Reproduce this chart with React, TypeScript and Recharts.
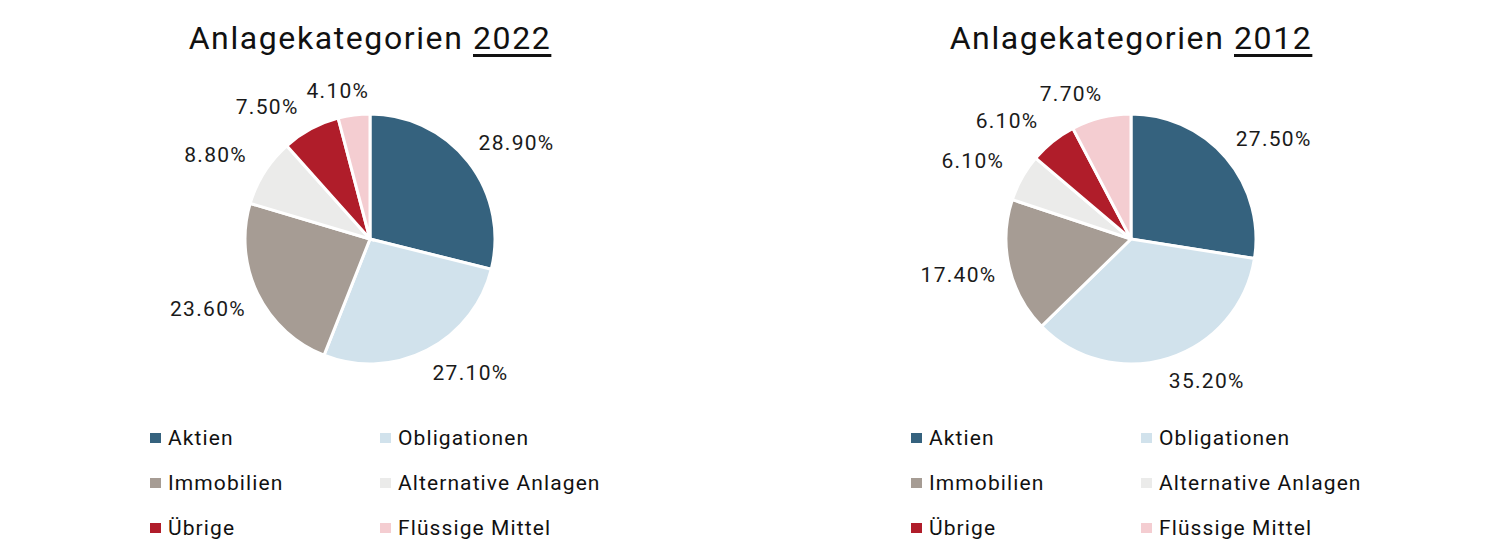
import { Pie, PieChart, Cell } from "recharts";

const categories = [
  "Aktien",
  "Obligationen",
  "Immobilien",
  "Alternative Anlagen",
  "Übrige",
  "Flüssige Mittel",
];
const colors = ["#35627e", "#d1e2ec", "#a69c94", "#ebebea", "#b01d2a", "#f4cdd1"];
const values2022 = [28.9, 27.1, 23.6, 8.8, 7.5, 4.1];
const values2012 = [27.5, 35.2, 17.4, 6.1, 6.1, 7.7];

const FONT = "Roboto, 'DejaVu Sans', sans-serif";
const RADIAN = Math.PI / 180;
const clamp = (v: number) => Math.max(-1, Math.min(1, v));

// outside-end labels, pushed off the rim by half the label box
function renderLabel(props: any) {
  const { cx, cy, midAngle, outerRadius, value } = props;
  const dx = Math.cos(-midAngle * RADIAN);
  const dy = Math.sin(-midAngle * RADIAN);
  const ax = cx + (outerRadius + 14) * dx;
  const ay = cy + (outerRadius + 14) * dy;
  const x = ax + 37 * clamp(dx * 3);
  const y = ay + 10 * clamp(dy * 2);
  return (
    <text
      x={x}
      y={y}
      textAnchor="middle"
      dominantBaseline="central"
      fill="#1a1a1a"
      fontSize={21}
      fontFamily={FONT}
      letterSpacing={1.3}
    >
      {`${Number(value).toFixed(2)}%`}
    </text>
  );
}

function Panel({ year, values, left }: { year: string; values: number[]; left: number }) {
  const data = categories.map((name, i) => ({ name, value: values[i] }));
  return (
    <div style={{ position: "absolute", left, top: 0, width: 750, height: 555 }}>
      <div
        style={{
          position: "absolute",
          left: 0,
          width: 740,
          top: 19,
          textAlign: "center",
          fontFamily: FONT,
          fontSize: 32,
          color: "#111",
          letterSpacing: 1.6,
        }}
      >
        Anlagekategorien <u style={{ textUnderlineOffset: 5 }}>{year}</u>
      </div>
      <div style={{ position: "absolute", left: 0, top: 0 }}>
        <PieChart width={750} height={410} margin={{ top: 0, right: 0, bottom: 0, left: 0 }}>
          <Pie
            data={data}
            dataKey="value"
            cx={370}
            cy={239}
            outerRadius={125}
            startAngle={90}
            endAngle={-270}
            stroke="#fff"
            strokeWidth={3}
            label={renderLabel}
            labelLine={false}
            isAnimationActive={false}
          >
            {data.map((d, i) => (
              <Cell key={d.name} fill={colors[i]} />
            ))}
          </Pie>
        </PieChart>
      </div>
      {categories.map((name, i) => (
        <div
          key={name}
          style={{
            position: "absolute",
            left: i % 2 === 0 ? 150 : 380,
            top: 438 + Math.floor(i / 2) * 45 - 14,
            height: 28,
            display: "flex",
            alignItems: "center",
            fontFamily: FONT,
            fontSize: 21,
            color: "#111",
            letterSpacing: 1.1,
            whiteSpace: "nowrap",
          }}
        >
          <span
            style={{
              display: "inline-block",
              width: 11,
              height: 10,
              background: colors[i],
              marginRight: 7,
            }}
          />
          {name}
        </div>
      ))}
    </div>
  );
}

export default function App() {
  return (
    <div
      style={{
        position: "fixed",
        left: 0,
        top: 0,
        width: 1500,
        height: 555,
        background: "#fff",
        overflow: "hidden",
      }}
    >
      <Panel year="2022" values={values2022} left={0} />
      <Panel year="2012" values={values2012} left={761} />
    </div>
  );
}
